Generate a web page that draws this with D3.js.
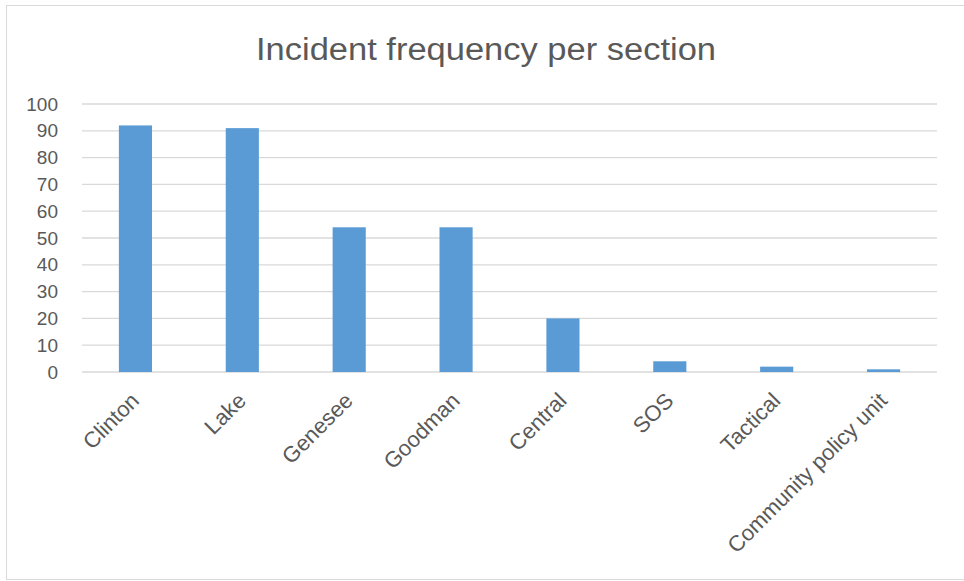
<!DOCTYPE html>
<html>
<head>
<meta charset="utf-8">
<script src="https://cdn.jsdelivr.net/npm/d3@7"></script>
<style>
  html, body { margin: 0; padding: 0; background: #fff; }
  svg { display: block; }
  text { font-family: "Liberation Sans", "DejaVu Sans", sans-serif; fill: #595959; }
</style>
</head>
<body>
<script>
// Incident counts by section
const sections = ["Clinton", "Lake", "Genesee", "Goodman", "Central", "SOS", "Tactical", "Community policy unit"];
const incidents = [92, 91, 54, 54, 20, 4, 2, 1];
const yTicks = [0, 10, 20, 30, 40, 50, 60, 70, 80, 90, 100];
const chartTitle = "Incident frequency per section";

const W = 964, H = 581;
const margin = { left: 82, right: 27, top: 104, bottom: 209 };

const svg = d3.select("body").append("svg")
  .attr("width", W).attr("height", H);

// chart frame
svg.append("rect")
  .attr("x", 6.5).attr("y", 5.5)
  .attr("width", W + 10).attr("height", 574)
  .attr("fill", "#fff").attr("stroke", "#d9d9d9").attr("stroke-width", 1);

const x = d3.scaleBand()
  .domain(sections)
  .range([margin.left, W - margin.right])
  .paddingInner(0.69).paddingOuter(0.345);

const y = d3.scaleLinear()
  .domain([0, 100])
  .range([H - margin.bottom, margin.top]);

// horizontal gridlines
svg.append("g")
  .selectAll("line")
  .data(yTicks)
  .join("line")
  .attr("x1", margin.left).attr("x2", W - margin.right)
  .attr("y1", d => y(d)).attr("y2", d => y(d))
  .attr("stroke", "#d9d9d9").attr("stroke-width", 1.3);

// y axis labels
const yAxis = d3.axisLeft(y).tickValues(yTicks).tickSize(0).tickPadding(0);
const gy = svg.append("g")
  .attr("transform", `translate(${margin.left - 24},0)`)
  .call(yAxis);
gy.select(".domain").remove();
gy.selectAll("text")
  .attr("font-size", 19)
  .attr("fill", "#595959")
  .attr("font-family", "Liberation Sans, sans-serif");

// bars
svg.append("g")
  .selectAll("rect")
  .data(sections.map((s, i) => ({ s, v: incidents[i] })))
  .join("rect")
  .attr("x", d => x(d.s))
  .attr("width", x.bandwidth())
  .attr("y", d => y(d.v))
  .attr("height", d => y(0) - y(d.v))
  .attr("fill", "#5b9bd5");

// rotated category labels
svg.append("g")
  .selectAll("text")
  .data(sections)
  .join("text")
  .attr("transform", d => `translate(${x(d) + x.bandwidth() / 2 + 5},${y(0) + 30}) rotate(-45)`)
  .attr("text-anchor", "end")
  .attr("font-size", 22)
  .text(d => d);

// title
svg.append("text")
  .attr("x", 486).attr("y", 60)
  .attr("text-anchor", "middle")
  .attr("font-size", 31)
  .attr("textLength", 460)
  .attr("lengthAdjust", "spacingAndGlyphs")
  .text(chartTitle);
</script>
</body>
</html>
